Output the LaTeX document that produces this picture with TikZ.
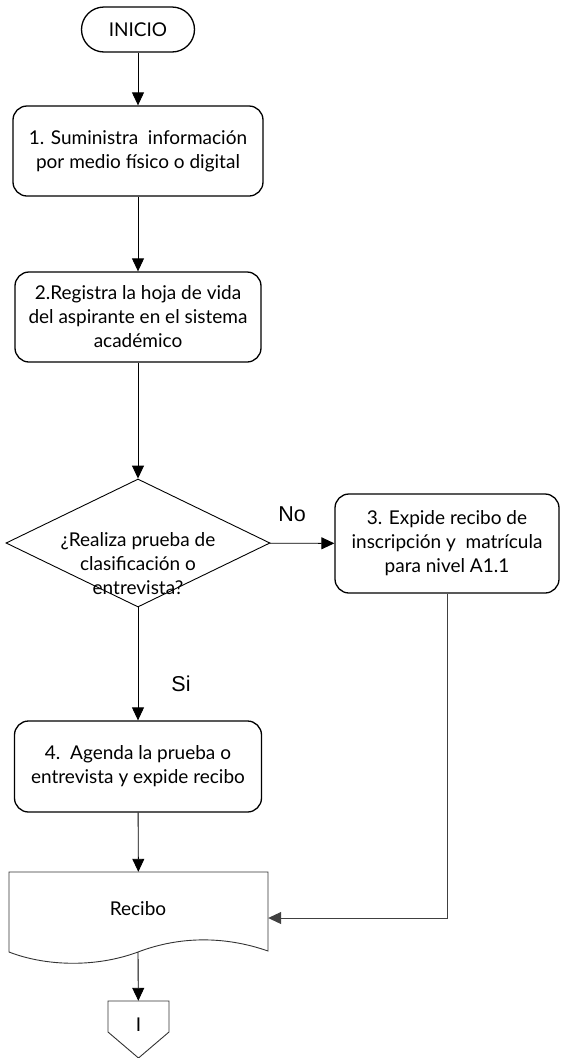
\documentclass[tikz,border=0pt]{standalone}
\usepackage{fontspec}
\setmainfont{Lato}
\newfontfamily\arialf{Liberation Sans}
\usetikzlibrary{arrows.meta,shapes.geometric}
\begin{document}
\begin{tikzpicture}[x=1pt,y=-1pt,
  txt/.style={align=center,font=\fontsize{19}{24}\selectfont,inner sep=0pt},
  box/.style={txt,draw,line width=1.3pt,rounded corners=14pt},
  conn/.style={line width=0.9pt,-{Triangle[width=12pt,length=13pt]}},
  conngray/.style={conn,draw=black!75},
  docline/.style={draw=black!80,line width=0.9pt},
  lab/.style={font=\arialf\fontsize{21.5}{24}\selectfont,inner sep=0pt}
]
\useasboundingbox (0,0) rectangle (561,1058);

\node[box, minimum width=113pt, minimum height=45pt, rounded corners=22.5pt] (start) at (138,29.5) {INICIO};
\node[box, minimum width=250pt, minimum height=90pt] (b1) at (138,151) {1. Suministra\ \ información\\por medio físico o digital};
\node[box, minimum width=246pt, minimum height=90pt] (b2) at (138,317) {2.Registra la hoja de vida\\del aspirante en el sistema\\académico};
\node[diamond, draw, line width=0.9pt, minimum width=264pt, minimum height=128pt, inner sep=0pt] (d) at (138,543) {};
\node[txt] (dt) at (138,564) {¿Realiza prueba de\\clasificación o\\entrevista?};
\node[box, minimum width=224pt, minimum height=99pt] (b3) at (447,543.5) {3. Expide recibo de\\inscripción y\ \ matrícula\\para nivel A1.1};
\node[box, minimum width=247pt, minimum height=91pt] (b4) at (138,766.5) {4.\ \ Agenda la prueba o\\entrevista y expide recibo};

\node[minimum width=259pt, minimum height=92pt, inner sep=0pt] (rec) at (138.5,918) {};
\draw[docline] (9,872) -- (268,872) -- (268,951) .. controls (225,936) and (180,936) .. (138,952) .. controls (95,968) and (45,966) .. (9,952) -- cycle;
\node[txt] (rt) at (138,909) {Recibo};
\coordinate (wv) at (138,952);

\draw[docline] (108,1001) -- (169,1001) -- (169,1032) -- (138.5,1058) -- (108,1032) -- cycle;
\node[txt, minimum width=61pt, minimum height=48pt] (off) at (138.5,1025) {I};

\node[lab] (no) at (292,514) {No};
\node[lab] (si) at (181,684) {Si};

\draw[conn] (start) -- (b1);
\draw[conn] (b1) -- (b2);
\draw[conn] (b2) -- (d);
\draw[conn] (d) -- (b3);
\draw[conn] (d) -- (b4);
\draw[conn] (b4) -- (rec);
\draw[conngray] (b3.south) |- (rec.east);
\draw[conn] (wv) -- (off);
\end{tikzpicture}
\end{document}
